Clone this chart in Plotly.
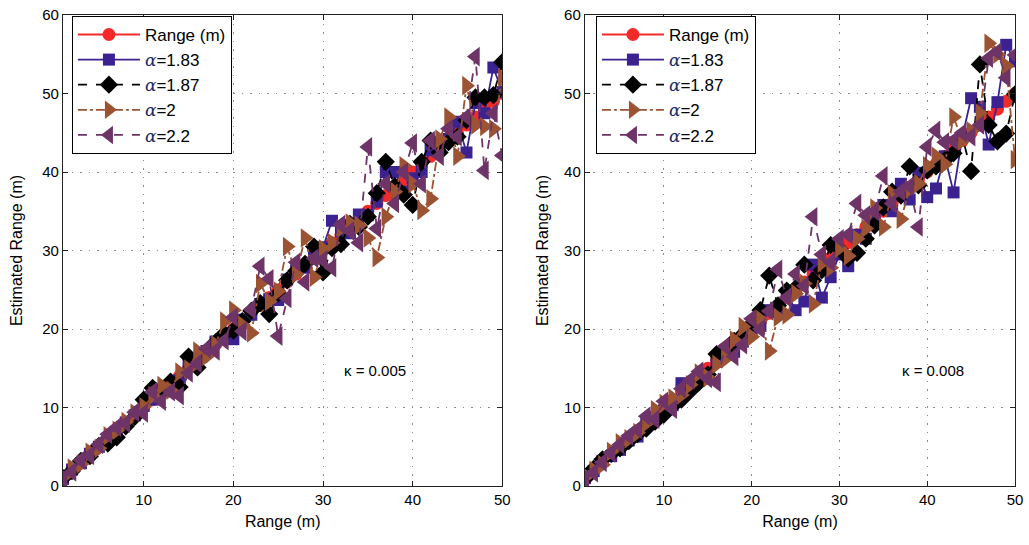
import plotly.graph_objects as go

x_vals = list(range(1, 51))
range_true = [float(v) for v in x_vals]

# Left panel (kappa = 0.005)
left_a183 = [0.9, 2.1, 2.9, 4.1, 5.0, 6.1, 6.8, 8.1, 9.0, 10.2,
             11.0, 12.3, 12.7, 13.5, 15.4, 15.8, 17.2, 18.4, 18.9, 18.7,
             21.2, 21.8, 23.2, 23.8, 23.7, 26.3, 27.5, 27.8, 29.2, 30.4,
             33.8, 32.4, 32.2, 34.6, 34.5, 36.2, 40.0, 40.0, 37.5, 39.2,
             40.0, 42.8, 43.5, 44.2, 46.4, 42.5, 48.8, 47.5, 53.3, 50.2]
left_a187 = [1.0, 1.9, 3.2, 3.8, 5.1, 5.4, 6.2, 7.6, 8.8, 11.0,
             12.5, 11.8, 13.3, 12.6, 16.5, 15.1, 16.8, 18.3, 19.4, 19.8,
             21.0, 22.3, 23.3, 21.9, 24.5, 26.2, 27.4, 28.3, 30.5, 27.2,
             30.3, 30.8, 33.4, 33.0, 34.3, 37.3, 41.3, 38.2, 37.1, 35.8,
             41.3, 44.0, 42.5, 43.8, 44.5, 46.6, 49.5, 49.5, 49.8, 54.0]
left_a2 = [1.1, 2.3, 2.8, 4.3, 4.8, 6.4, 7.1, 8.2, 9.3, 10.1,
           11.5, 12.8, 12.2, 14.5, 14.9, 17.2, 16.5, 18.0, 21.0, 22.4,
           20.5, 19.5, 25.8, 23.5, 24.8, 30.5, 27.0, 31.6, 26.6, 30.2,
           31.0, 32.8, 33.5, 33.2, 31.6, 29.1, 34.3, 37.5, 40.8, 38.5,
           35.1, 36.6, 44.2, 47.0, 42.0, 51.0, 46.0, 45.8, 45.5, 52.0]
left_a22 = [0.9, 1.8, 3.3, 3.9, 5.3, 6.6, 7.5, 8.0, 9.4, 9.3,
            12.0, 10.8, 12.0, 11.5, 14.4, 15.6, 17.5, 17.2, 18.5, 21.5,
            19.7, 22.5, 28.0, 26.4, 19.1, 23.9, 28.5, 26.0, 29.0, 28.8,
            27.8, 33.3, 32.5, 31.0, 43.2, 32.8, 38.5, 36.0, 40.0, 43.7,
            38.5, 44.0, 42.0, 45.5, 44.5, 47.0, 54.7, 40.2, 47.5, 42.1]

# Right panel (kappa = 0.008)
right_a183 = [1.0, 1.9, 3.2, 3.8, 4.6, 5.8, 6.3, 8.3, 8.7, 9.6,
              10.3, 13.1, 12.6, 13.4, 14.3, 15.8, 17.3, 17.1, 18.4, 19.5,
              20.4, 22.4, 22.2, 24.6, 22.4, 23.5, 28.2, 24.0, 26.6, 29.5,
              28.0, 32.0, 31.5, 34.2, 35.8, 35.0, 38.5, 36.5, 39.9, 36.8,
              37.9, 42.0, 37.4, 44.5, 49.4, 48.3, 43.5, 48.9, 56.2, 54.1]
right_a187 = [0.9, 2.2, 3.4, 4.1, 4.8, 5.7, 6.6, 7.3, 8.2, 9.1,
              10.2, 11.0, 12.1, 13.2, 14.2, 16.8, 17.2, 18.5, 19.3, 20.6,
              22.4, 26.8, 23.0, 24.9, 25.2, 28.2, 26.2, 27.5, 30.7, 30.2,
              29.0, 29.7, 31.5, 33.2, 35.5, 37.5, 37.0, 40.7, 38.3, 40.2,
              40.7, 41.5, 42.4, 44.5, 40.1, 53.7, 46.0, 43.9, 44.9, 49.9]
right_a2 = [1.1, 2.0, 2.7, 4.4, 5.5, 6.0, 6.8, 8.0, 9.7, 10.5,
            11.2, 11.6, 12.9, 14.4, 13.8, 15.5, 16.2, 18.6, 20.3, 19.0,
            21.2, 17.2, 21.5, 21.8, 24.5, 25.8, 23.2, 28.4, 27.8, 30.3,
            29.3, 31.5, 32.8, 35.4, 33.0, 37.2, 34.0, 37.8, 38.5, 40.8,
            42.0, 41.0, 47.0, 44.0, 45.2, 47.5, 56.4, 55.0, 53.5, 41.6]
right_a22 = [0.9, 1.7, 3.0, 4.2, 5.3, 6.4, 7.2, 8.9, 8.5, 10.8,
             9.8, 12.4, 13.5, 14.6, 13.7, 13.2, 17.8, 16.5, 18.0, 21.3,
             20.0, 22.3, 27.6, 24.0, 27.0, 25.5, 34.3, 29.5, 28.5, 31.5,
             32.0, 36.0, 34.5, 35.0, 39.5, 36.0, 37.5, 38.2, 33.0, 43.2,
             45.3, 43.8, 44.0, 45.0, 44.5, 46.0, 54.5, 55.3, 52.0, 54.9]

kappa_labels = ["\u03ba = 0.005", "\u03ba = 0.008"]
x_ticks = [10, 20, 30, 40, 50]
y_ticks = [0, 10, 20, 30, 40, 50, 60]

ALPHA = "<span style=\"font-family:'DejaVu Serif'; font-style:italic; color:#1d2a66\">\u03b1</span>"
names = ["Range (m)", ALPHA + "=1.83", ALPHA + "=1.87", ALPHA + "=2", ALPHA + "=2.2"]
colors = ["#F42A2A", "#3B2290", "#000000", "#9C5333", "#6E3468"]
symbols = ["circle", "square", "diamond", "triangle-right", "triangle-left"]
sizes = [13, 12, 14, 17, 17]
dashes = ["solid", "solid", "dash", "dashdot", "dash"]

FONT = "Liberation Sans, Arial, Helvetica, sans-serif"

fig = go.Figure()
panels = [
    (range_true, left_a183, left_a187, left_a2, left_a22),
    (range_true, right_a183, right_a187, right_a2, right_a22),
]
for p, series in enumerate(panels):
    xa = "x" if p == 0 else "x2"
    ya = "y" if p == 0 else "y2"
    lg = "legend" if p == 0 else "legend2"
    for i, ys in enumerate(series):
        fig.add_trace(go.Scatter(
            x=x_vals, y=ys, xaxis=xa, yaxis=ya, name=names[i], legend=lg,
            mode="lines+markers",
            line=dict(color=colors[i], width=1.8, dash=dashes[i]),
            marker=dict(symbol=symbols[i], size=sizes[i], color=colors[i], line=dict(width=0)),
        ))

axis_common = dict(
    showline=True, linecolor="#222222", linewidth=1.3, mirror="ticks",
    ticks="inside", ticklen=5, tickcolor="#222222",
    showgrid=True, gridcolor="#8c8c8c", griddash="1.5px,7px", gridwidth=1,
    zeroline=False, tickfont=dict(size=15, color="black", family=FONT),
    title_font=dict(size=16, color="black", family=FONT),
    ticklabeloverflow="allow",
)

legend_common = dict(
    bgcolor="white", bordercolor="black", borderwidth=1,
    font=dict(size=17, color="black", family=FONT),
    xanchor="left", yanchor="top", itemwidth=62, tracegroupgap=0,
)

fig.update_layout(
    width=1029, height=545,
    margin=dict(l=63, r=12, t=6, b=59),
    paper_bgcolor="white", plot_bgcolor="white",
    font=dict(family=FONT, color="black"),
    xaxis=dict(domain=[0, 0.4615], range=[1, 50], tickvals=x_ticks,
               title=dict(text="Range (m)", standoff=8), anchor="y", **axis_common),
    yaxis=dict(domain=[0, 1], range=[0, 60], tickvals=y_ticks,
               title=dict(text="Estimated Range (m)", standoff=15), anchor="x", **axis_common),
    xaxis2=dict(domain=[0.5482, 1], range=[1, 50], tickvals=x_ticks,
                title=dict(text="Range (m)", standoff=8), anchor="y2", **axis_common),
    yaxis2=dict(domain=[0, 1], range=[0, 60], tickvals=y_ticks,
                title=dict(text="Estimated Range (m)", standoff=11), anchor="x2", **axis_common),
    legend=dict(x=0.0094, y=0.998, **legend_common),
    legend2=dict(x=0.5598, y=0.998, **legend_common),
    annotations=[
        dict(text=kappa_labels[0], x=35.8, y=14.75, xref="x", yref="y", showarrow=False,
             font=dict(size=15, color="black", family=FONT)),
        dict(text=kappa_labels[1], x=40.7, y=14.75, xref="x2", yref="y2", showarrow=False,
             font=dict(size=15, color="black", family=FONT)),
    ],
)

fig.write_html("out.html")
